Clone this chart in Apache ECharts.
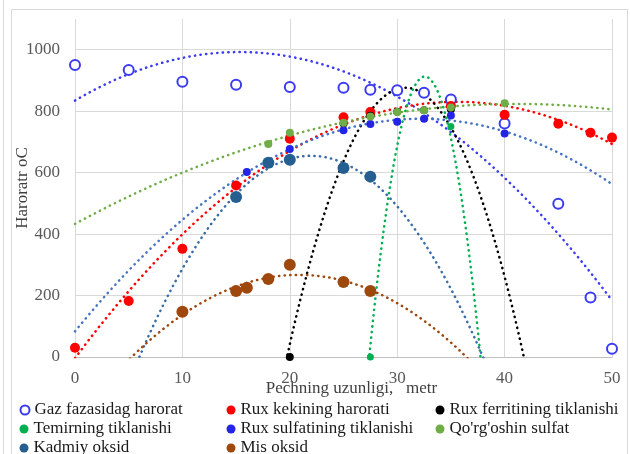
<!DOCTYPE html>
<html>
<head>
<meta charset="utf-8">
<script src="https://cdn.jsdelivr.net/npm/echarts@6/dist/echarts.min.js"></script>
<style>
  html, body { margin: 0; padding: 0; background: #fff; }
  #chart { width: 630px; height: 454px; }
</style>
</head>
<body>
<div id="chart"></div>
<script>
// Measured temperatures along the kiln length (x in metres, y in °C)
const gazX = [0, 5, 10, 15, 20, 25, 27.5, 30, 32.5, 35, 40, 45, 48, 50];
const gazY = [950, 934, 896, 886, 879, 876, 870, 868, 860, 838, 760, 499, 194, 27];

const ruxKekX = [0, 5, 10, 15, 20, 25, 27.5, 35, 40, 45, 48, 50];
const ruxKekY = [30, 182, 352, 558, 710, 780, 797, 817, 788, 759, 730, 714];

const ferritX = [20, 25, 27.5, 30, 32.5, 35];
const ferritY = [0, 760, 785, 798, 803, 806];

const temirX = [27.5, 30, 32.5, 35];
const temirY = [0, 798, 802, 750];

const sulfatX = [16, 20, 25, 27.5, 30, 32.5, 35, 40];
const sulfatY = [602, 677, 738, 758, 766, 775, 786, 727];

const qorgX = [18, 20, 25, 27.5, 30, 32.5, 35, 40];
const qorgY = [693, 730, 762, 783, 797, 803, 812, 826];

const kadmiyX = [15, 18, 20, 25, 27.5];
const kadmiyY = [521, 632, 642, 615, 587];

const misX = [10, 15, 16, 18, 20, 25, 27.5];
const misY = [147, 215, 225, 254, 300, 244, 215];

const xTicks = [0, 10, 20, 30, 40, 50];
const yTicks = [0, 200, 400, 600, 800, 1000];

const SERIF = '"Liberation Serif", "Times New Roman", serif';

// least-squares quadratic fit y = a + b x + c x^2
function quadFit(xs, ys) {
  let s0 = 0, s1 = 0, s2 = 0, s3 = 0, s4 = 0, t0 = 0, t1 = 0, t2 = 0;
  for (let i = 0; i < xs.length; i++) {
    const x = xs[i], y = ys[i];
    s0 += 1; s1 += x; s2 += x * x; s3 += x * x * x; s4 += x * x * x * x;
    t0 += y; t1 += x * y; t2 += x * x * y;
  }
  const M = [[s0, s1, s2, t0], [s1, s2, s3, t1], [s2, s3, s4, t2]];
  for (let i = 0; i < 3; i++) {
    let p = i;
    for (let r = i + 1; r < 3; r++) if (Math.abs(M[r][i]) > Math.abs(M[p][i])) p = r;
    [M[i], M[p]] = [M[p], M[i]];
    for (let r = 0; r < 3; r++) {
      if (r === i) continue;
      const f = M[r][i] / M[i][i];
      for (let c = i; c < 4; c++) M[r][c] -= f * M[i][c];
    }
  }
  return [M[0][3] / M[0][0], M[1][3] / M[1][1], M[2][3] / M[2][2]];
}

function trendPoints(xs, ys) {
  const [a, b, c] = quadFit(xs, ys);
  const pts = [];
  for (let i = 0; i <= 500; i++) {
    const x = i / 10;
    pts.push([x, a + b * x + c * x * x]);
  }
  return pts;
}

function zip(xs, ys) { return xs.map((x, i) => [x, ys[i]]); }

// legend slot: column icon centre x, row centre y
const groups = [
  { name: 'Gaz fazasidag harorat', xs: gazX, ys: gazY, color: '#3b3bf2', line: '#3b3bf2', size: 10, empty: true, lx: 24, ly: 410 },
  { name: 'Rux kekining harorati', xs: ruxKekX, ys: ruxKekY, color: '#ff0000', line: '#ff0000', size: 10, lx: 231, ly: 410 },
  { name: 'Rux ferritining tiklanishi', xs: ferritX, ys: ferritY, color: '#000000', line: '#000000', size: 8, lx: 440, ly: 410 },
  { name: 'Temirning tiklanishi', xs: temirX, ys: temirY, color: '#00b050', line: '#00b050', size: 7, lx: 24, ly: 429 },
  { name: 'Rux sulfatining tiklanishi', xs: sulfatX, ys: sulfatY, color: '#2424e6', line: '#4472c4', size: 8, lx: 231, ly: 429 },
  { name: "Qo'rg'oshin sulfat", xs: qorgX, ys: qorgY, color: '#70ad47', line: '#70ad47', size: 8, lx: 440, ly: 429 },
  { name: 'Kadmiy oksid', xs: kadmiyX, ys: kadmiyY, color: '#255e91', line: '#3a6ca6', size: 12, lx: 24, ly: 448 },
  { name: 'Mis oksid', xs: misX, ys: misY, color: '#9e480e', line: '#9e480e', size: 12, lx: 231, ly: 448 }
];

const series = [];
groups.forEach((g, i) => {
  series.push({
    name: 'trend-' + i,
    type: 'line',
    data: trendPoints(g.xs, g.ys),
    showSymbol: false,
    symbol: 'none',
    silent: true,
    clip: true,
    z: 2,
    lineStyle: { color: g.line, width: 2.5, type: [0.3, 5.3], cap: 'round' }
  });
});
groups.forEach((g, i) => {
  series.push({
    name: g.name,
    type: 'scatter',
    data: zip(g.xs, g.ys),
    symbol: g.empty ? 'emptyCircle' : 'circle',
    symbolSize: g.size,
    z: 3 + i,
    itemStyle: g.empty
      ? { color: g.color, borderColor: g.color, borderWidth: 2, opacity: 1 }
      : { color: g.color, opacity: 1 }
  });
});

const legends = groups.map(g => ({
  orient: 'horizontal',
  left: g.lx - 4.5,
  top: g.ly - 9,
  padding: 0,
  itemWidth: 9,
  itemHeight: 9,
  selectedMode: false,
  textStyle: { fontFamily: SERIF, fontSize: 17, color: '#1a1a1a', lineHeight: 18 },
  data: [{ name: g.name, icon: g.empty ? 'emptyCircle' : 'circle' }]
}));

const chart = echarts.init(document.getElementById('chart'), null, { renderer: 'canvas' });
chart.setOption({
  animation: false,
  backgroundColor: '#ffffff',
  graphic: [
    { type: 'line', shape: { x1: 3.5, y1: 0, x2: 3.5, y2: 454 }, style: { stroke: '#d9d9d9', lineWidth: 1 } },
    { type: 'rect', shape: { x: 11.5, y: 9.5, width: 616, height: 460 }, style: { fill: 'none', stroke: '#d9d9d9', lineWidth: 1 } }
  ],
  grid: { left: 75, right: 18, top: 19, bottom: 97, containLabel: false, outerBoundsMode: 'none' },
  xAxis: {
    type: 'value',
    min: xTicks[0],
    max: xTicks[xTicks.length - 1],
    interval: xTicks[1] - xTicks[0],
    name: 'Pechning uzunligi,   metr',
    nameLocation: 'middle',
    nameGap: 23,
    nameMoveOverlap: false,
    nameTextStyle: { fontFamily: SERIF, fontSize: 17, color: '#404040', padding: [0, 0, 0, 16] },
    axisLine: { show: true, lineStyle: { color: '#bfbfbf', width: 1 } },
    axisTick: { show: false },
    axisLabel: { fontFamily: SERIF, fontSize: 17, color: '#595959', margin: 13 },
    splitLine: { show: true, lineStyle: { color: '#d9d9d9', width: 1 } }
  },
  yAxis: {
    type: 'value',
    min: 0,
    max: 1100,
    interval: yTicks[1] - yTicks[0],
    name: 'Haroratr oC',
    nameLocation: 'middle',
    nameGap: 44,
    nameRotate: 90,
    nameMoveOverlap: false,
    nameTextStyle: { fontFamily: SERIF, fontSize: 17, color: '#404040' },
    axisLine: { show: false },
    axisTick: { show: false },
    axisLabel: {
      fontFamily: SERIF, fontSize: 17, color: '#595959', margin: 15,
      formatter: v => (yTicks.indexOf(v) >= 0 ? String(v) : '')
    },
    splitLine: { show: true, lineStyle: { color: ['#d9d9d9', '#d9d9d9', '#d9d9d9', '#d9d9d9', '#d9d9d9', '#d9d9d9', 'rgba(0,0,0,0)'], width: 1 } }
  },
  legend: legends,
  series: series
});
</script>
</body>
</html>
